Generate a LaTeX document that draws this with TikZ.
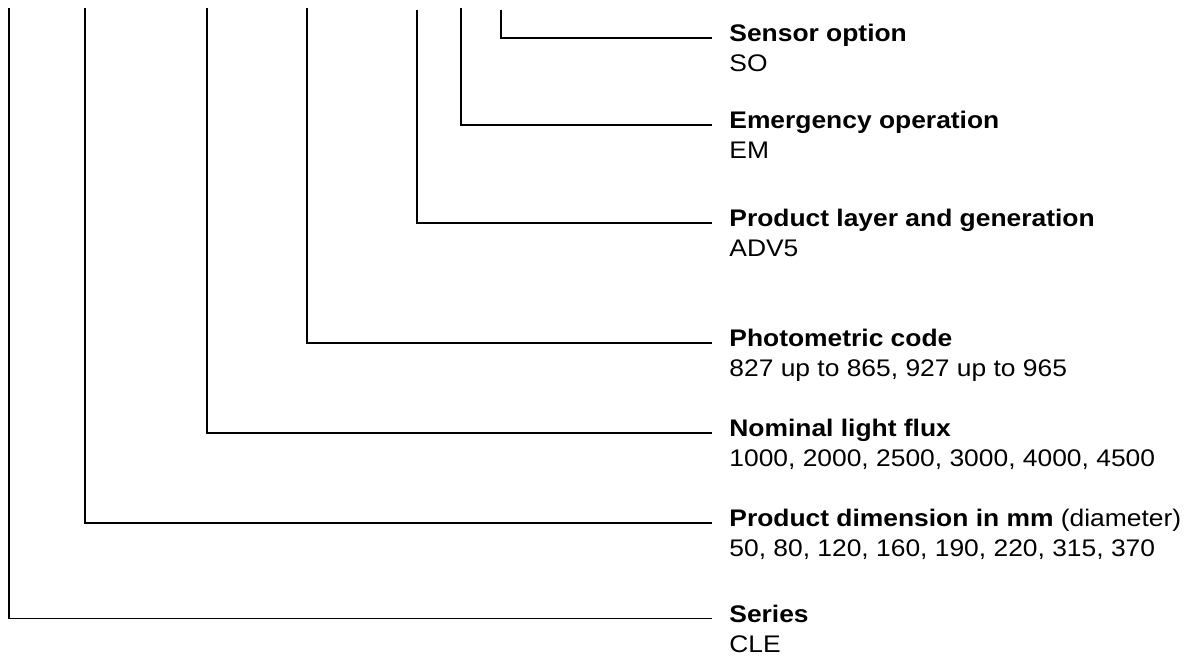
\documentclass[tikz,border=0pt]{standalone}
\usepackage{fontspec}
\setmainfont{Liberation Sans}
\newfontfamily\keyfont[FakeStretch=1.1]{Liberation Sans}
\usetikzlibrary{positioning}

\tikzset{
  keytitle/.style={anchor=base west, inner sep=0pt, font=\keyfont\fontsize{12}{14}\selectfont\bfseries},
  keyvalue/.style={anchor=base west, inner sep=0pt, font=\keyfont\fontsize{12}{14}\selectfont},
  leader/.style={line width=0.7pt},
}

\begin{document}
\begin{tikzpicture}[x=0.5pt, y=-0.5pt]
	\useasboundingbox (0,0) rectangle (1193,657);

	% Sensor option
	\node[keytitle] (sensor) at (729,41.5) {Sensor option};
	\node[keyvalue] (sensorval) at ([yshift=-15pt]sensor.base west) {SO};
	\coordinate (sensortop) at (501,10);
	\draw[leader] (sensortop) |- ([xshift=-8.5pt,yshift=1.75pt]sensor.base west);

	% Emergency operation
	\node[keytitle] (emerg) at (729,128.5) {Emergency operation};
	\node[keyvalue] (emergval) at ([yshift=-15pt]emerg.base west) {EM};
	\coordinate (emergtop) at (461,8);
	\draw[leader] (emergtop) |- ([xshift=-8.5pt,yshift=1.75pt]emerg.base west);

	% Product layer
	\node[keytitle] (layer) at (729,226.5) {Product layer and generation};
	\node[keyvalue] (layerval) at ([yshift=-15pt]layer.base west) {ADV5};
	\coordinate (layertop) at (417,10);
	\draw[leader] (layertop) |- ([xshift=-8.5pt,yshift=1.75pt]layer.base west);

	% Photometric code
	\node[keytitle] (photo) at (729,346.5) {Photometric code};
	\node[keyvalue] (photoval) at ([yshift=-15pt]photo.base west) {827 up to 865, 927 up to 965};
	\coordinate (phototop) at (307,8);
	\draw[leader] (phototop) |- ([xshift=-8.5pt,yshift=1.75pt]photo.base west);

	% Light flux
	\node[keytitle] (flux) at (729,436.5) {Nominal light flux};
	\node[keyvalue] (fluxval) at ([yshift=-15pt]flux.base west) {1000, 2000, 2500, 3000, 4000, 4500};
	\coordinate (fluxtop) at (207,8);
	\draw[leader] (fluxtop) |- ([xshift=-8.5pt,yshift=1.75pt]flux.base west);

	% Dimension
	\node[keytitle] (dim) at (729,526.5) {Product dimension in mm \textmd{(diameter)}};
	\node[keyvalue] (dimval) at ([yshift=-15pt]dim.base west) {50, 80, 120, 160, 190, 220, 315, 370};
	\coordinate (dimtop) at (85,8);
	\draw[leader] (dimtop) |- ([xshift=-8.5pt,yshift=1.75pt]dim.base west);

	% Series
	\node[keytitle] (series) at (729,622) {Series};
	\node[keyvalue] (seriesval) at ([yshift=-15pt]series.base west) {CLE};
	\coordinate (seriestop) at (9,8);
	\draw[leader] (seriestop) |- ([xshift=-8.5pt,yshift=1.75pt]series.base west);
\end{tikzpicture}
\end{document}
